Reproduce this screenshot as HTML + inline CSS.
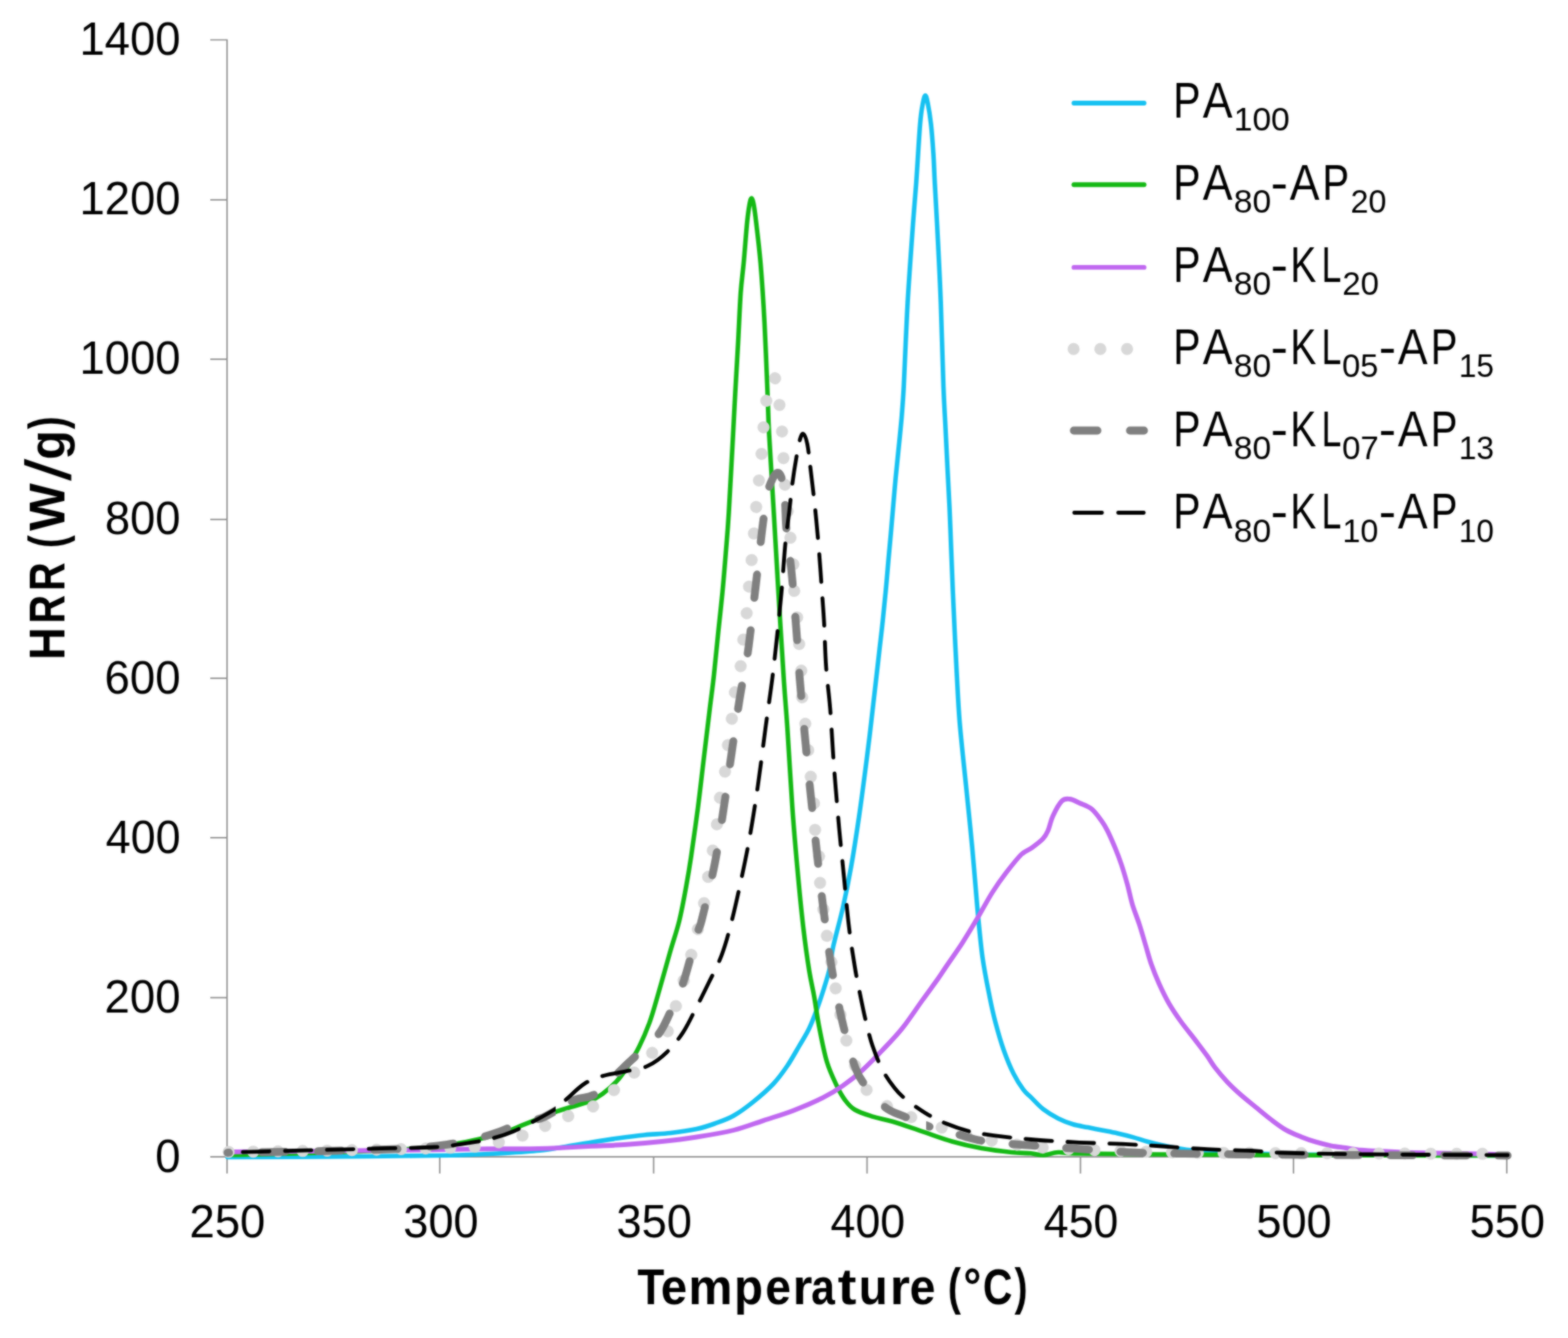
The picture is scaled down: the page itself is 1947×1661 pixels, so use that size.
<!DOCTYPE html>
<html lang="en">
<head>
<meta charset="utf-8">
<title>HRR vs Temperature</title>
<style>
html,body{margin:0;padding:0;background:#fff;}
body{width:1947px;height:1661px;overflow:hidden;font-family:"Liberation Sans",sans-serif;}
svg{display:block;}
</style>
</head>
<body>
<svg width="1947" height="1661" viewBox="0 0 1947 1661">
<defs><filter id="soft" x="0" y="0" width="1947" height="1661" filterUnits="userSpaceOnUse" color-interpolation-filters="sRGB"><feGaussianBlur in="SourceGraphic" stdDeviation="0.8" result="b"/><feComposite in="SourceGraphic" in2="b" operator="arithmetic" k1="0" k2="0.30" k3="0.70" k4="0"/></filter></defs>
<g filter="url(#soft)">
<rect width="1947" height="1661" fill="#fff"/>
<defs>
<clipPath id="cdD"><path d="M0,0H690V1661H0Z"/></clipPath><clipPath id="cdA"><path d="M690,0H972V486H960V1661H690Z"/></clipPath><clipPath id="cdB"><path d="M972,0H1150V1661H960V486H972Z"/></clipPath><clipPath id="cdC"><path d="M1150,0H1947V1661H1150Z"/></clipPath>
<clipPath id="cgD"><path d="M0,0H690V1661H0Z"/></clipPath><clipPath id="cgA"><path d="M690,0H980V612H962V1661H690Z"/></clipPath><clipPath id="cgB"><path d="M980,0H1150V1661H962V612H980Z"/></clipPath><clipPath id="cgC"><path d="M1150,0H1947V1661H1150Z"/></clipPath>
<clipPath id="cbD"><path d="M0,0H690V1661H0Z"/></clipPath><clipPath id="cbA"><path d="M690,0H1010V568H998V1661H690Z"/></clipPath><clipPath id="cbB"><path d="M1010,0H1150V1661H998V568H1010Z"/></clipPath><clipPath id="cbC"><path d="M1150,0H1947V1661H1150Z"/></clipPath>
</defs>
<g stroke="#8a8a8a" stroke-width="1.7" fill="none">
<path d="M261.1,49.5H281.9V1456.8"/>
<line x1="261.1" y1="1436.05" x2="1871.0" y2="1436.05"/>
<line x1="261.1" y1="1238.5" x2="281.9" y2="1238.5"/>
<line x1="261.1" y1="1039.9" x2="281.9" y2="1039.9"/>
<line x1="261.1" y1="842.0" x2="281.9" y2="842.0"/>
<line x1="261.1" y1="644.8" x2="281.9" y2="644.8"/>
<line x1="261.1" y1="445.9" x2="281.9" y2="445.9"/>
<line x1="261.1" y1="248.15" x2="281.9" y2="248.15"/>
<line x1="546.1" y1="1436.05" x2="546.1" y2="1456.8"/>
<line x1="811.6" y1="1436.05" x2="811.6" y2="1456.8"/>
<line x1="1076.6" y1="1436.05" x2="1076.6" y2="1456.8"/>
<line x1="1341.6" y1="1436.05" x2="1341.6" y2="1456.8"/>
<line x1="1606.2" y1="1436.05" x2="1606.2" y2="1456.8"/>
<line x1="1871.0" y1="1436.05" x2="1871.0" y2="1456.8"/>
</g>
<g>
<path d="M282.5,1436.5C302.1,1436.4 357.1,1436.3 400.0,1436.0C442.9,1435.7 509.5,1434.9 540.0,1434.5C570.5,1434.1 568.5,1434.0 583.0,1433.5C597.5,1433.0 612.5,1432.4 627.0,1431.5C641.5,1430.6 657.4,1429.6 670.0,1428.3C682.6,1427.0 691.7,1425.2 702.5,1423.5C713.3,1421.8 724.1,1419.8 735.0,1418.0C745.9,1416.2 756.8,1414.5 767.6,1413.0C778.4,1411.5 789.2,1410.1 800.0,1409.0C810.8,1407.9 821.8,1407.8 832.6,1406.5C843.4,1405.2 855.9,1403.4 865.0,1401.5C874.1,1399.6 879.3,1397.8 887.0,1395.0C894.7,1392.2 902.9,1389.6 911.0,1385.0C919.1,1380.4 927.4,1374.2 935.6,1367.6C943.8,1361.0 953.3,1352.9 960.3,1345.5C967.3,1338.1 972.2,1331.1 977.5,1323.3C982.8,1315.5 987.8,1306.3 992.3,1298.6C996.8,1290.9 1000.9,1284.7 1004.6,1277.0C1008.3,1269.3 1011.4,1260.8 1014.5,1252.5C1017.6,1244.2 1020.4,1235.6 1023.1,1227.0C1025.8,1218.4 1028.6,1209.6 1030.5,1201.0C1032.4,1192.4 1031.8,1188.0 1034.5,1175.5C1037.2,1163.0 1043.1,1142.5 1046.8,1126.0C1050.5,1109.5 1053.4,1095.3 1056.7,1076.8C1060.0,1058.3 1063.2,1037.6 1066.5,1015.0C1069.8,992.4 1073.9,960.6 1076.4,941.0C1078.9,921.4 1079.9,912.9 1081.7,897.2C1083.5,881.5 1085.8,861.4 1087.5,846.6C1089.2,831.9 1090.4,821.3 1091.8,808.7C1093.2,796.1 1094.8,783.4 1096.1,770.8C1097.4,758.1 1098.7,745.4 1099.9,732.8C1101.1,720.1 1102.2,706.7 1103.2,694.9C1104.2,683.1 1105.3,672.5 1106.2,662.0C1107.1,651.5 1107.8,643.1 1108.8,631.7C1109.8,620.3 1110.9,606.4 1112.1,593.8C1113.3,581.2 1114.7,568.5 1115.9,555.9C1117.2,543.2 1118.5,530.5 1119.6,517.9C1120.6,505.2 1121.4,495.4 1122.2,480.0C1123.0,464.6 1123.8,442.8 1124.6,425.5C1125.4,408.2 1126.1,392.4 1127.0,376.0C1127.9,359.6 1129.1,343.2 1130.2,326.8C1131.3,310.4 1132.5,293.9 1133.7,277.4C1134.9,260.9 1136.1,248.6 1137.6,228.0C1139.1,207.4 1141.1,170.7 1142.5,154.0C1143.9,137.3 1144.9,133.9 1146.0,128.0C1147.1,122.1 1148.0,118.5 1149.0,118.5C1150.0,118.5 1150.8,122.1 1152.0,128.0C1153.2,133.9 1154.8,143.5 1156.0,154.0C1157.2,164.5 1158.2,178.7 1159.0,191.0C1159.8,203.3 1159.8,209.5 1160.8,228.0C1161.8,246.5 1163.6,277.3 1164.8,302.0C1166.0,326.7 1167.1,346.3 1168.2,376.0C1169.3,405.7 1170.5,454.2 1171.5,480.0C1172.5,505.8 1173.2,513.8 1174.0,530.6C1174.8,547.5 1175.7,564.2 1176.5,581.1C1177.3,598.0 1178.3,614.8 1179.1,631.7C1179.9,648.6 1180.4,665.4 1181.1,682.3C1181.8,699.1 1182.4,715.9 1183.1,732.8C1183.8,749.6 1184.6,766.5 1185.4,783.4C1186.2,800.3 1186.9,815.0 1187.9,834.0C1189.0,853.0 1189.7,873.2 1191.7,897.2C1193.7,921.2 1197.2,952.2 1199.8,978.0C1202.4,1003.8 1204.9,1027.3 1207.2,1052.0C1209.5,1076.7 1211.4,1103.4 1213.5,1126.0C1215.6,1148.6 1217.4,1169.3 1219.9,1187.8C1222.5,1206.3 1226.1,1223.7 1228.8,1237.2C1231.5,1250.7 1233.1,1258.0 1236.0,1269.0C1238.9,1280.0 1242.5,1292.8 1246.3,1303.5C1250.1,1314.2 1254.5,1324.9 1258.6,1333.1C1262.7,1341.3 1267.3,1348.1 1270.9,1352.9C1274.5,1357.7 1275.9,1358.0 1280.0,1362.0C1284.1,1366.0 1289.8,1372.6 1295.5,1377.0C1301.2,1381.4 1307.8,1385.3 1314.0,1388.4C1320.2,1391.5 1326.3,1393.9 1332.5,1395.8C1338.7,1397.7 1344.8,1398.3 1351.0,1399.6C1357.2,1400.8 1363.2,1402.1 1369.4,1403.3C1375.6,1404.5 1381.7,1405.6 1387.9,1407.0C1394.1,1408.4 1400.2,1409.9 1406.4,1411.6C1412.6,1413.3 1418.7,1415.5 1424.9,1417.2C1431.1,1418.9 1437.2,1420.4 1443.4,1421.8C1449.6,1423.2 1455.7,1424.4 1461.9,1425.4C1468.1,1426.4 1471.2,1427.1 1480.4,1428.0C1489.6,1428.9 1497.1,1430.2 1517.0,1431.0C1536.9,1431.8 1569.5,1432.5 1600.0,1433.0C1630.5,1433.5 1654.7,1433.8 1700.0,1434.0C1745.3,1434.2 1843.3,1434.4 1872.0,1434.5" fill="none" stroke="#16c1f1" stroke-width="5.6" stroke-linecap="round" stroke-linejoin="round"/>
<path d="M282.5,1434.0C302.1,1433.5 367.1,1432.0 400.0,1431.0C432.9,1430.0 456.7,1429.2 480.0,1428.0C503.3,1426.8 526.4,1425.2 540.0,1424.0C553.6,1422.8 552.7,1422.4 561.7,1420.8C570.7,1419.2 583.4,1416.8 594.2,1414.3C605.0,1411.8 617.7,1408.5 626.7,1405.6C635.7,1402.7 641.2,1399.8 648.4,1396.9C655.6,1394.0 662.8,1391.2 670.0,1388.3C677.2,1385.4 685.2,1381.9 691.7,1379.6C698.2,1377.2 702.6,1376.2 709.1,1374.2C715.6,1372.2 724.2,1370.4 730.7,1367.7C737.2,1365.0 742.3,1362.1 748.1,1357.9C753.9,1353.7 760.4,1348.1 765.4,1342.7C770.4,1337.3 773.7,1332.6 778.4,1325.4C783.1,1318.2 788.9,1308.8 793.6,1299.4C798.3,1290.0 802.7,1279.8 806.6,1269.1C810.5,1258.4 812.8,1249.5 817.0,1235.0C821.2,1220.5 827.6,1197.3 832.0,1182.0C836.4,1166.7 840.0,1157.0 843.4,1143.3C846.8,1129.6 849.7,1113.2 852.1,1100.0C854.5,1086.8 855.6,1080.6 858.0,1064.4C860.4,1048.2 863.9,1023.4 866.6,1002.8C869.3,982.2 871.5,961.6 874.0,941.0C876.5,920.4 879.3,896.6 881.4,879.4C883.5,862.2 884.8,853.6 886.5,838.0C888.2,822.4 890.0,802.5 891.8,785.5C893.5,768.5 895.4,752.5 897.0,736.0C898.6,719.5 899.9,703.2 901.2,686.8C902.5,670.4 903.4,662.1 904.9,637.4C906.4,612.7 908.9,563.8 910.3,538.7C911.6,513.6 912.0,505.9 913.0,487.0C914.0,468.1 915.4,446.0 916.5,425.5C917.6,405.0 918.6,380.2 919.7,363.8C920.9,347.4 922.0,341.6 923.4,326.8C924.8,312.0 926.5,287.5 927.8,275.0C929.1,262.5 930.1,256.8 931.0,252.0C931.9,247.2 932.5,246.0 933.3,246.0C934.0,246.0 934.7,248.0 935.5,252.0C936.3,256.0 936.7,257.5 938.2,270.0C939.7,282.5 942.5,305.0 944.4,326.8C946.2,348.6 947.9,374.1 949.3,400.8C950.7,427.5 952.0,464.0 953.0,487.0C954.0,510.0 953.7,513.6 955.0,538.7C956.3,563.8 959.0,604.5 960.9,637.4C962.8,670.3 964.5,701.1 966.6,736.0C968.7,770.9 971.6,819.0 973.5,847.0C975.4,875.0 976.0,878.0 977.7,904.0C979.4,930.0 981.9,974.0 983.9,1002.8C985.9,1031.6 987.8,1052.1 990.0,1076.8C992.2,1101.5 994.9,1129.4 997.4,1150.8C999.9,1172.2 1002.5,1190.6 1004.8,1205.0C1007.1,1219.4 1009.0,1225.7 1011.0,1237.2C1013.0,1248.7 1014.4,1260.5 1017.0,1274.0C1019.6,1287.5 1023.1,1306.0 1026.8,1318.3C1030.5,1330.6 1035.4,1340.2 1039.1,1348.0C1042.8,1355.8 1045.3,1360.3 1049.0,1365.2C1052.7,1370.1 1055.5,1374.0 1061.3,1377.5C1067.0,1381.0 1075.7,1383.6 1083.5,1386.1C1091.3,1388.6 1097.9,1389.2 1108.2,1392.3C1118.5,1395.4 1132.9,1400.5 1145.2,1404.6C1157.5,1408.7 1169.8,1413.5 1182.1,1417.0C1194.4,1420.5 1206.8,1423.3 1219.1,1425.6C1231.4,1427.8 1245.9,1429.5 1256.1,1430.5C1266.2,1431.5 1273.3,1431.2 1280.0,1431.8C1286.7,1432.4 1290.3,1434.2 1296.0,1434.0C1301.7,1433.8 1306.7,1430.8 1314.0,1430.5C1321.3,1430.2 1320.0,1431.6 1340.0,1432.0C1360.0,1432.4 1390.7,1432.7 1434.0,1433.0C1477.3,1433.3 1527.0,1433.8 1600.0,1434.0C1673.0,1434.2 1826.7,1434.4 1872.0,1434.5" fill="none" stroke="#14b914" stroke-width="5.6" stroke-linecap="round" stroke-linejoin="round"/>
<path d="M282.5,1430.0C302.1,1429.8 357.1,1429.5 400.0,1429.0C442.9,1428.5 505.8,1427.8 540.0,1427.3C574.2,1426.8 586.9,1426.4 605.0,1426.2C623.1,1426.0 633.9,1426.4 648.4,1426.2C662.9,1426.0 677.2,1425.6 691.7,1425.1C706.2,1424.5 720.7,1423.6 735.1,1422.9C749.5,1422.2 764.0,1421.8 778.4,1420.8C792.8,1419.8 807.3,1418.5 821.8,1417.0C836.2,1415.5 850.2,1413.8 865.1,1411.5C880.0,1409.2 897.2,1406.4 911.0,1403.0C924.8,1399.6 935.6,1395.1 947.9,1391.1C960.2,1387.0 972.6,1383.4 984.9,1378.7C997.2,1374.0 1011.6,1367.8 1021.9,1362.7C1032.2,1357.6 1038.3,1353.7 1046.5,1347.9C1054.7,1342.2 1063.0,1335.6 1071.2,1328.2C1079.4,1320.8 1087.7,1312.1 1095.9,1303.5C1104.1,1294.9 1112.3,1286.7 1120.5,1276.4C1128.7,1266.1 1137.8,1252.2 1145.2,1241.9C1152.6,1231.6 1160.0,1221.8 1164.9,1214.8C1169.8,1207.8 1169.8,1207.4 1174.8,1200.0C1179.8,1192.6 1188.4,1180.6 1194.9,1170.6C1201.4,1160.6 1207.4,1150.4 1213.6,1140.0C1219.8,1129.6 1226.1,1117.5 1232.1,1108.0C1238.1,1098.5 1243.4,1091.1 1249.4,1083.3C1255.4,1075.5 1262.6,1066.2 1267.9,1061.0C1273.2,1055.8 1276.9,1055.7 1281.4,1052.4C1285.9,1049.1 1291.7,1044.8 1295.0,1041.3C1298.3,1037.8 1299.1,1036.1 1301.2,1031.4C1303.3,1026.7 1304.5,1019.2 1307.4,1013.0C1310.3,1006.8 1315.0,997.9 1318.5,994.4C1322.0,990.9 1324.6,991.6 1328.3,992.0C1332.0,992.4 1336.2,995.0 1340.7,997.0C1345.2,999.0 1351.0,1000.6 1355.5,1004.3C1360.0,1008.0 1364.5,1014.5 1367.8,1019.0C1371.1,1023.5 1372.3,1025.6 1375.2,1031.4C1378.1,1037.2 1382.2,1046.7 1385.1,1053.7C1388.0,1060.7 1390.0,1066.0 1392.5,1073.4C1395.0,1080.8 1397.6,1089.8 1399.9,1098.0C1402.2,1106.2 1403.6,1114.6 1406.1,1122.8C1408.6,1131.0 1412.0,1139.2 1414.7,1147.4C1417.4,1155.6 1419.6,1163.8 1422.1,1172.0C1424.6,1180.2 1426.6,1188.5 1429.5,1196.8C1432.4,1205.0 1435.7,1213.3 1439.4,1221.5C1443.1,1229.7 1447.2,1238.2 1451.7,1246.0C1456.2,1253.8 1461.2,1261.0 1466.5,1268.4C1471.8,1275.8 1478.5,1283.6 1483.8,1290.6C1489.1,1297.6 1494.5,1304.6 1498.6,1310.3C1502.7,1316.0 1504.4,1319.7 1508.5,1325.0C1512.6,1330.3 1518.0,1336.7 1523.3,1342.4C1528.6,1348.1 1534.5,1353.6 1540.6,1359.0C1546.7,1364.4 1553.7,1369.8 1560.0,1375.0C1566.3,1380.2 1572.3,1385.3 1578.5,1390.0C1584.7,1394.7 1590.8,1399.4 1597.0,1402.9C1603.2,1406.4 1609.3,1408.7 1615.5,1411.2C1621.7,1413.7 1627.8,1415.9 1634.0,1417.7C1640.2,1419.5 1646.3,1421.1 1652.5,1422.3C1658.7,1423.5 1664.8,1424.1 1671.0,1425.0C1677.2,1425.9 1683.2,1427.2 1689.4,1427.8C1695.6,1428.4 1698.7,1428.3 1708.0,1428.8C1717.3,1429.3 1732.7,1430.1 1745.0,1430.6C1757.3,1431.0 1766.6,1431.2 1782.0,1431.5C1797.4,1431.8 1822.3,1432.2 1837.4,1432.5C1852.5,1432.8 1866.7,1433.2 1872.5,1433.4" fill="none" stroke="#c068f0" stroke-width="5.8999999999999995" stroke-linecap="round" stroke-linejoin="round"/>
<path d="M282.5,1430.0C302.1,1429.8 363.8,1429.1 400.0,1428.5C436.2,1427.9 474.5,1427.1 500.0,1426.5C525.5,1425.9 538.8,1425.4 553.0,1425.0C567.2,1424.6 574.9,1425.1 585.5,1424.0C596.1,1422.9 606.4,1420.9 616.9,1418.6C627.4,1416.2 638.1,1413.5 648.4,1409.9C658.7,1406.3 669.0,1401.1 678.7,1396.9C688.5,1392.8 697.1,1389.0 706.9,1385.0C716.6,1381.0 727.8,1378.5 737.2,1373.1C746.6,1367.7 754.7,1359.5 763.2,1352.5C771.7,1345.5 780.4,1338.4 788.2,1330.8C796.0,1323.2 803.1,1315.1 809.8,1307.0C816.5,1298.9 823.4,1291.6 828.3,1282.0C833.2,1272.4 834.0,1265.8 839.1,1249.5C844.2,1233.2 854.0,1200.5 858.6,1184.5C863.2,1168.5 864.0,1163.6 866.6,1153.3C869.2,1143.0 871.9,1132.9 874.0,1122.4C876.1,1111.9 877.1,1101.5 879.0,1090.4C880.9,1079.3 883.3,1066.7 885.1,1055.8C886.9,1044.9 888.5,1035.7 890.0,1025.0C891.5,1014.3 892.1,1002.5 893.8,991.6C895.5,980.7 898.4,970.5 900.0,959.6C901.6,948.7 902.3,937.3 903.7,926.2C905.1,915.1 907.2,903.9 908.6,893.0C910.0,882.1 910.5,871.6 912.3,860.8C914.1,850.0 917.7,839.0 919.5,828.0C921.3,817.0 921.6,805.7 922.9,794.6C924.2,783.5 925.9,772.6 927.1,761.6C928.3,750.6 929.0,739.7 930.0,728.7C931.0,717.7 932.3,706.5 933.3,695.4C934.3,684.3 935.2,673.0 936.2,662.0C937.2,651.0 938.0,640.3 939.0,629.3C940.0,618.3 941.3,607.2 942.4,596.2C943.5,585.2 944.6,574.4 945.6,563.4C946.6,552.4 947.1,540.9 948.1,530.0C949.1,519.1 950.1,506.7 951.5,498.0C952.9,489.3 955.0,482.9 956.5,478.0C958.0,473.1 959.2,469.9 960.3,468.8C961.4,467.7 962.3,469.1 963.2,471.5C964.1,473.9 964.8,477.9 965.6,483.0C966.4,488.1 966.9,493.5 967.8,502.2C968.7,510.9 970.2,524.0 971.0,535.0C971.8,546.0 972.2,557.2 972.8,568.3C973.4,579.4 973.8,590.6 974.7,601.6C975.6,612.6 976.9,623.1 978.0,634.0C979.1,644.9 980.2,655.9 981.4,667.0C982.6,678.1 984.3,689.1 985.1,700.4C985.9,711.7 985.5,723.7 986.3,735.0C987.1,746.3 989.0,757.1 990.0,768.2C991.0,779.3 991.7,790.8 992.5,801.5C993.3,812.2 994.4,821.5 995.0,832.4C995.6,843.3 995.4,856.1 996.2,867.0C997.0,877.9 998.7,887.2 999.9,897.9C1001.1,908.6 1002.4,919.9 1003.5,931.0C1004.6,942.1 1005.5,953.0 1006.8,964.5C1008.0,976.0 1010.1,989.2 1011.0,1000.3C1011.9,1011.4 1011.2,1020.3 1012.2,1031.0C1013.2,1041.7 1016.2,1053.4 1017.2,1064.5C1018.2,1075.6 1017.5,1086.9 1018.4,1097.8C1019.3,1108.7 1021.1,1119.1 1022.5,1130.0C1023.9,1140.9 1025.3,1152.4 1027.0,1163.2C1028.7,1174.0 1030.7,1184.1 1032.5,1195.0C1034.3,1205.9 1036.0,1217.2 1037.9,1228.4C1039.8,1239.6 1041.7,1251.1 1044.0,1262.0C1046.3,1272.9 1048.2,1282.7 1051.5,1293.7C1054.8,1304.7 1058.9,1316.7 1064.0,1328.0C1069.1,1339.3 1074.6,1353.3 1082.3,1361.5C1090.0,1369.7 1100.5,1372.3 1110.0,1377.0C1119.5,1381.7 1129.0,1386.0 1139.0,1389.8C1149.0,1393.6 1159.7,1396.7 1170.0,1400.0C1180.3,1403.3 1187.3,1406.4 1200.6,1409.6C1213.9,1412.8 1233.4,1416.4 1250.0,1419.0C1266.6,1421.6 1275.0,1423.3 1300.0,1425.0C1325.0,1426.7 1366.7,1428.0 1400.0,1429.0C1433.3,1430.0 1421.3,1430.4 1500.0,1431.0C1578.7,1431.6 1810.0,1432.2 1872.0,1432.5" fill="none" stroke="#d8d8d8" stroke-width="15.0" stroke-linecap="round" stroke-linejoin="round" stroke-dasharray="0.01 33.09" stroke-dashoffset="0.53" clip-path="url(#cdA)"/>
<path d="M282.5,1430.0C302.1,1429.8 363.8,1429.1 400.0,1428.5C436.2,1427.9 474.5,1427.1 500.0,1426.5C525.5,1425.9 538.8,1425.4 553.0,1425.0C567.2,1424.6 574.9,1425.1 585.5,1424.0C596.1,1422.9 606.4,1420.9 616.9,1418.6C627.4,1416.2 638.1,1413.5 648.4,1409.9C658.7,1406.3 669.0,1401.1 678.7,1396.9C688.5,1392.8 697.1,1389.0 706.9,1385.0C716.6,1381.0 727.8,1378.5 737.2,1373.1C746.6,1367.7 754.7,1359.5 763.2,1352.5C771.7,1345.5 780.4,1338.4 788.2,1330.8C796.0,1323.2 803.1,1315.1 809.8,1307.0C816.5,1298.9 823.4,1291.6 828.3,1282.0C833.2,1272.4 834.0,1265.8 839.1,1249.5C844.2,1233.2 854.0,1200.5 858.6,1184.5C863.2,1168.5 864.0,1163.6 866.6,1153.3C869.2,1143.0 871.9,1132.9 874.0,1122.4C876.1,1111.9 877.1,1101.5 879.0,1090.4C880.9,1079.3 883.3,1066.7 885.1,1055.8C886.9,1044.9 888.5,1035.7 890.0,1025.0C891.5,1014.3 892.1,1002.5 893.8,991.6C895.5,980.7 898.4,970.5 900.0,959.6C901.6,948.7 902.3,937.3 903.7,926.2C905.1,915.1 907.2,903.9 908.6,893.0C910.0,882.1 910.5,871.6 912.3,860.8C914.1,850.0 917.7,839.0 919.5,828.0C921.3,817.0 921.6,805.7 922.9,794.6C924.2,783.5 925.9,772.6 927.1,761.6C928.3,750.6 929.0,739.7 930.0,728.7C931.0,717.7 932.3,706.5 933.3,695.4C934.3,684.3 935.2,673.0 936.2,662.0C937.2,651.0 938.0,640.3 939.0,629.3C940.0,618.3 941.3,607.2 942.4,596.2C943.5,585.2 944.6,574.4 945.6,563.4C946.6,552.4 947.1,540.9 948.1,530.0C949.1,519.1 950.1,506.7 951.5,498.0C952.9,489.3 955.0,482.9 956.5,478.0C958.0,473.1 959.2,469.9 960.3,468.8C961.4,467.7 962.3,469.1 963.2,471.5C964.1,473.9 964.8,477.9 965.6,483.0C966.4,488.1 966.9,493.5 967.8,502.2C968.7,510.9 970.2,524.0 971.0,535.0C971.8,546.0 972.2,557.2 972.8,568.3C973.4,579.4 973.8,590.6 974.7,601.6C975.6,612.6 976.9,623.1 978.0,634.0C979.1,644.9 980.2,655.9 981.4,667.0C982.6,678.1 984.3,689.1 985.1,700.4C985.9,711.7 985.5,723.7 986.3,735.0C987.1,746.3 989.0,757.1 990.0,768.2C991.0,779.3 991.7,790.8 992.5,801.5C993.3,812.2 994.4,821.5 995.0,832.4C995.6,843.3 995.4,856.1 996.2,867.0C997.0,877.9 998.7,887.2 999.9,897.9C1001.1,908.6 1002.4,919.9 1003.5,931.0C1004.6,942.1 1005.5,953.0 1006.8,964.5C1008.0,976.0 1010.1,989.2 1011.0,1000.3C1011.9,1011.4 1011.2,1020.3 1012.2,1031.0C1013.2,1041.7 1016.2,1053.4 1017.2,1064.5C1018.2,1075.6 1017.5,1086.9 1018.4,1097.8C1019.3,1108.7 1021.1,1119.1 1022.5,1130.0C1023.9,1140.9 1025.3,1152.4 1027.0,1163.2C1028.7,1174.0 1030.7,1184.1 1032.5,1195.0C1034.3,1205.9 1036.0,1217.2 1037.9,1228.4C1039.8,1239.6 1041.7,1251.1 1044.0,1262.0C1046.3,1272.9 1048.2,1282.7 1051.5,1293.7C1054.8,1304.7 1058.9,1316.7 1064.0,1328.0C1069.1,1339.3 1074.6,1353.3 1082.3,1361.5C1090.0,1369.7 1100.5,1372.3 1110.0,1377.0C1119.5,1381.7 1129.0,1386.0 1139.0,1389.8C1149.0,1393.6 1159.7,1396.7 1170.0,1400.0C1180.3,1403.3 1187.3,1406.4 1200.6,1409.6C1213.9,1412.8 1233.4,1416.4 1250.0,1419.0C1266.6,1421.6 1275.0,1423.3 1300.0,1425.0C1325.0,1426.7 1366.7,1428.0 1400.0,1429.0C1433.3,1430.0 1421.3,1430.4 1500.0,1431.0C1578.7,1431.6 1810.0,1432.2 1872.0,1432.5" fill="none" stroke="#d8d8d8" stroke-width="15.0" stroke-linecap="round" stroke-linejoin="round" stroke-dasharray="0.01 33.09" stroke-dashoffset="0.20" clip-path="url(#cdB)"/>
<path d="M282.5,1430.0C302.1,1429.8 363.8,1429.1 400.0,1428.5C436.2,1427.9 474.5,1427.1 500.0,1426.5C525.5,1425.9 538.8,1425.4 553.0,1425.0C567.2,1424.6 574.9,1425.1 585.5,1424.0C596.1,1422.9 606.4,1420.9 616.9,1418.6C627.4,1416.2 638.1,1413.5 648.4,1409.9C658.7,1406.3 669.0,1401.1 678.7,1396.9C688.5,1392.8 697.1,1389.0 706.9,1385.0C716.6,1381.0 727.8,1378.5 737.2,1373.1C746.6,1367.7 754.7,1359.5 763.2,1352.5C771.7,1345.5 780.4,1338.4 788.2,1330.8C796.0,1323.2 803.1,1315.1 809.8,1307.0C816.5,1298.9 823.4,1291.6 828.3,1282.0C833.2,1272.4 834.0,1265.8 839.1,1249.5C844.2,1233.2 854.0,1200.5 858.6,1184.5C863.2,1168.5 864.0,1163.6 866.6,1153.3C869.2,1143.0 871.9,1132.9 874.0,1122.4C876.1,1111.9 877.1,1101.5 879.0,1090.4C880.9,1079.3 883.3,1066.7 885.1,1055.8C886.9,1044.9 888.5,1035.7 890.0,1025.0C891.5,1014.3 892.1,1002.5 893.8,991.6C895.5,980.7 898.4,970.5 900.0,959.6C901.6,948.7 902.3,937.3 903.7,926.2C905.1,915.1 907.2,903.9 908.6,893.0C910.0,882.1 910.5,871.6 912.3,860.8C914.1,850.0 917.7,839.0 919.5,828.0C921.3,817.0 921.6,805.7 922.9,794.6C924.2,783.5 925.9,772.6 927.1,761.6C928.3,750.6 929.0,739.7 930.0,728.7C931.0,717.7 932.3,706.5 933.3,695.4C934.3,684.3 935.2,673.0 936.2,662.0C937.2,651.0 938.0,640.3 939.0,629.3C940.0,618.3 941.3,607.2 942.4,596.2C943.5,585.2 944.6,574.4 945.6,563.4C946.6,552.4 947.1,540.9 948.1,530.0C949.1,519.1 950.1,506.7 951.5,498.0C952.9,489.3 955.0,482.9 956.5,478.0C958.0,473.1 959.2,469.9 960.3,468.8C961.4,467.7 962.3,469.1 963.2,471.5C964.1,473.9 964.8,477.9 965.6,483.0C966.4,488.1 966.9,493.5 967.8,502.2C968.7,510.9 970.2,524.0 971.0,535.0C971.8,546.0 972.2,557.2 972.8,568.3C973.4,579.4 973.8,590.6 974.7,601.6C975.6,612.6 976.9,623.1 978.0,634.0C979.1,644.9 980.2,655.9 981.4,667.0C982.6,678.1 984.3,689.1 985.1,700.4C985.9,711.7 985.5,723.7 986.3,735.0C987.1,746.3 989.0,757.1 990.0,768.2C991.0,779.3 991.7,790.8 992.5,801.5C993.3,812.2 994.4,821.5 995.0,832.4C995.6,843.3 995.4,856.1 996.2,867.0C997.0,877.9 998.7,887.2 999.9,897.9C1001.1,908.6 1002.4,919.9 1003.5,931.0C1004.6,942.1 1005.5,953.0 1006.8,964.5C1008.0,976.0 1010.1,989.2 1011.0,1000.3C1011.9,1011.4 1011.2,1020.3 1012.2,1031.0C1013.2,1041.7 1016.2,1053.4 1017.2,1064.5C1018.2,1075.6 1017.5,1086.9 1018.4,1097.8C1019.3,1108.7 1021.1,1119.1 1022.5,1130.0C1023.9,1140.9 1025.3,1152.4 1027.0,1163.2C1028.7,1174.0 1030.7,1184.1 1032.5,1195.0C1034.3,1205.9 1036.0,1217.2 1037.9,1228.4C1039.8,1239.6 1041.7,1251.1 1044.0,1262.0C1046.3,1272.9 1048.2,1282.7 1051.5,1293.7C1054.8,1304.7 1058.9,1316.7 1064.0,1328.0C1069.1,1339.3 1074.6,1353.3 1082.3,1361.5C1090.0,1369.7 1100.5,1372.3 1110.0,1377.0C1119.5,1381.7 1129.0,1386.0 1139.0,1389.8C1149.0,1393.6 1159.7,1396.7 1170.0,1400.0C1180.3,1403.3 1187.3,1406.4 1200.6,1409.6C1213.9,1412.8 1233.4,1416.4 1250.0,1419.0C1266.6,1421.6 1275.0,1423.3 1300.0,1425.0C1325.0,1426.7 1366.7,1428.0 1400.0,1429.0C1433.3,1430.0 1421.3,1430.4 1500.0,1431.0C1578.7,1431.6 1810.0,1432.2 1872.0,1432.5" fill="none" stroke="#d8d8d8" stroke-width="15.0" stroke-linecap="round" stroke-linejoin="round" stroke-dasharray="0.01 30.53" stroke-dashoffset="28.94" clip-path="url(#cdD)"/>
<path d="M282.5,1430.0C302.1,1429.8 363.8,1429.1 400.0,1428.5C436.2,1427.9 474.5,1427.1 500.0,1426.5C525.5,1425.9 538.8,1425.4 553.0,1425.0C567.2,1424.6 574.9,1425.1 585.5,1424.0C596.1,1422.9 606.4,1420.9 616.9,1418.6C627.4,1416.2 638.1,1413.5 648.4,1409.9C658.7,1406.3 669.0,1401.1 678.7,1396.9C688.5,1392.8 697.1,1389.0 706.9,1385.0C716.6,1381.0 727.8,1378.5 737.2,1373.1C746.6,1367.7 754.7,1359.5 763.2,1352.5C771.7,1345.5 780.4,1338.4 788.2,1330.8C796.0,1323.2 803.1,1315.1 809.8,1307.0C816.5,1298.9 823.4,1291.6 828.3,1282.0C833.2,1272.4 834.0,1265.8 839.1,1249.5C844.2,1233.2 854.0,1200.5 858.6,1184.5C863.2,1168.5 864.0,1163.6 866.6,1153.3C869.2,1143.0 871.9,1132.9 874.0,1122.4C876.1,1111.9 877.1,1101.5 879.0,1090.4C880.9,1079.3 883.3,1066.7 885.1,1055.8C886.9,1044.9 888.5,1035.7 890.0,1025.0C891.5,1014.3 892.1,1002.5 893.8,991.6C895.5,980.7 898.4,970.5 900.0,959.6C901.6,948.7 902.3,937.3 903.7,926.2C905.1,915.1 907.2,903.9 908.6,893.0C910.0,882.1 910.5,871.6 912.3,860.8C914.1,850.0 917.7,839.0 919.5,828.0C921.3,817.0 921.6,805.7 922.9,794.6C924.2,783.5 925.9,772.6 927.1,761.6C928.3,750.6 929.0,739.7 930.0,728.7C931.0,717.7 932.3,706.5 933.3,695.4C934.3,684.3 935.2,673.0 936.2,662.0C937.2,651.0 938.0,640.3 939.0,629.3C940.0,618.3 941.3,607.2 942.4,596.2C943.5,585.2 944.6,574.4 945.6,563.4C946.6,552.4 947.1,540.9 948.1,530.0C949.1,519.1 950.1,506.7 951.5,498.0C952.9,489.3 955.0,482.9 956.5,478.0C958.0,473.1 959.2,469.9 960.3,468.8C961.4,467.7 962.3,469.1 963.2,471.5C964.1,473.9 964.8,477.9 965.6,483.0C966.4,488.1 966.9,493.5 967.8,502.2C968.7,510.9 970.2,524.0 971.0,535.0C971.8,546.0 972.2,557.2 972.8,568.3C973.4,579.4 973.8,590.6 974.7,601.6C975.6,612.6 976.9,623.1 978.0,634.0C979.1,644.9 980.2,655.9 981.4,667.0C982.6,678.1 984.3,689.1 985.1,700.4C985.9,711.7 985.5,723.7 986.3,735.0C987.1,746.3 989.0,757.1 990.0,768.2C991.0,779.3 991.7,790.8 992.5,801.5C993.3,812.2 994.4,821.5 995.0,832.4C995.6,843.3 995.4,856.1 996.2,867.0C997.0,877.9 998.7,887.2 999.9,897.9C1001.1,908.6 1002.4,919.9 1003.5,931.0C1004.6,942.1 1005.5,953.0 1006.8,964.5C1008.0,976.0 1010.1,989.2 1011.0,1000.3C1011.9,1011.4 1011.2,1020.3 1012.2,1031.0C1013.2,1041.7 1016.2,1053.4 1017.2,1064.5C1018.2,1075.6 1017.5,1086.9 1018.4,1097.8C1019.3,1108.7 1021.1,1119.1 1022.5,1130.0C1023.9,1140.9 1025.3,1152.4 1027.0,1163.2C1028.7,1174.0 1030.7,1184.1 1032.5,1195.0C1034.3,1205.9 1036.0,1217.2 1037.9,1228.4C1039.8,1239.6 1041.7,1251.1 1044.0,1262.0C1046.3,1272.9 1048.2,1282.7 1051.5,1293.7C1054.8,1304.7 1058.9,1316.7 1064.0,1328.0C1069.1,1339.3 1074.6,1353.3 1082.3,1361.5C1090.0,1369.7 1100.5,1372.3 1110.0,1377.0C1119.5,1381.7 1129.0,1386.0 1139.0,1389.8C1149.0,1393.6 1159.7,1396.7 1170.0,1400.0C1180.3,1403.3 1187.3,1406.4 1200.6,1409.6C1213.9,1412.8 1233.4,1416.4 1250.0,1419.0C1266.6,1421.6 1275.0,1423.3 1300.0,1425.0C1325.0,1426.7 1366.7,1428.0 1400.0,1429.0C1433.3,1430.0 1421.3,1430.4 1500.0,1431.0C1578.7,1431.6 1810.0,1432.2 1872.0,1432.5" fill="none" stroke="#d8d8d8" stroke-width="15.0" stroke-linecap="round" stroke-linejoin="round" stroke-dasharray="0.01 32.10" stroke-dashoffset="17.43" clip-path="url(#cdC)"/>
<path d="M282.5,1431.0C302.1,1430.7 363.8,1429.8 400.0,1429.0C436.2,1428.2 474.1,1427.4 500.0,1426.0C525.9,1424.6 539.9,1422.9 555.2,1420.8C570.5,1418.7 581.5,1415.7 592.0,1413.2C602.5,1410.7 607.9,1409.2 618.0,1405.6C628.1,1402.0 643.3,1394.6 652.7,1391.5C662.1,1388.4 664.3,1391.5 674.4,1387.2C684.5,1382.9 702.6,1370.4 713.4,1365.5C724.2,1360.6 728.9,1365.0 739.4,1357.9C749.9,1350.9 767.9,1331.0 776.2,1323.2C784.5,1315.4 782.3,1317.8 789.2,1311.3C796.1,1304.8 810.2,1293.4 817.4,1284.2C824.6,1275.0 827.5,1266.5 832.6,1256.0C837.7,1245.5 843.6,1232.6 847.8,1221.4C851.9,1210.2 854.2,1200.1 857.5,1188.9C860.8,1177.7 864.9,1162.2 867.3,1154.2C869.6,1146.2 868.2,1154.7 871.6,1141.0C875.0,1127.3 883.1,1094.8 887.6,1071.8C892.1,1048.8 895.2,1025.8 898.7,1002.8C902.2,979.8 905.3,956.3 908.6,933.7C911.9,911.1 915.3,886.8 918.5,867.0C921.7,847.2 925.5,829.0 927.8,815.0C930.0,801.0 930.5,794.9 932.0,783.0C933.5,771.1 935.1,755.4 936.5,743.5C937.9,731.6 938.9,723.0 940.2,711.5C941.5,700.0 943.1,685.6 944.4,674.5C945.7,663.4 946.6,655.2 948.0,644.8C949.4,634.4 951.2,620.3 953.0,612.0C954.8,603.7 957.0,599.2 959.0,595.0C961.0,590.8 963.2,587.5 965.0,587.0C966.8,586.5 968.7,588.5 970.0,592.0C971.3,595.5 972.2,602.1 973.0,608.0C973.8,613.9 974.4,619.3 975.0,627.5C975.6,635.7 975.4,645.5 976.5,657.0C977.6,668.5 980.0,684.8 981.4,696.7C982.8,708.7 983.6,717.2 984.6,728.7C985.6,740.2 986.7,754.3 987.6,765.8C988.5,777.3 989.1,785.1 990.0,797.8C990.9,810.5 991.4,821.8 993.0,842.0C994.6,862.2 997.6,894.5 999.9,918.8C1002.2,943.1 1004.4,965.0 1006.8,988.0C1009.2,1011.0 1011.7,1034.0 1014.2,1057.0C1016.8,1080.0 1019.1,1102.5 1022.1,1126.0C1025.1,1149.5 1028.5,1176.3 1032.0,1197.7C1035.5,1219.1 1039.5,1238.5 1042.8,1254.2C1046.1,1269.9 1048.9,1280.5 1052.0,1292.0C1055.1,1303.5 1058.1,1314.8 1061.3,1323.3C1064.5,1331.8 1065.0,1334.6 1071.2,1343.0C1077.4,1351.4 1089.7,1366.6 1098.3,1373.8C1106.9,1381.0 1113.1,1381.8 1123.0,1386.1C1132.9,1390.4 1146.4,1396.0 1157.5,1399.7C1168.6,1403.4 1178.4,1405.4 1189.5,1408.3C1200.6,1411.2 1208.9,1414.7 1224.0,1417.0C1239.1,1419.3 1261.9,1420.5 1280.0,1421.9C1298.1,1423.4 1312.0,1424.3 1332.5,1425.7C1353.0,1427.1 1379.6,1429.3 1402.7,1430.4C1425.8,1431.5 1448.8,1431.8 1471.0,1432.2C1493.2,1432.6 1497.8,1432.7 1536.0,1433.0C1574.2,1433.3 1644.0,1433.8 1700.0,1434.0C1756.0,1434.2 1843.3,1434.4 1872.0,1434.5" fill="none" stroke="#808080" stroke-width="9.8" stroke-linecap="round" stroke-linejoin="round" stroke-dasharray="29.3 40.4" stroke-dashoffset="49.94" clip-path="url(#cgA)"/>
<path d="M282.5,1431.0C302.1,1430.7 363.8,1429.8 400.0,1429.0C436.2,1428.2 474.1,1427.4 500.0,1426.0C525.9,1424.6 539.9,1422.9 555.2,1420.8C570.5,1418.7 581.5,1415.7 592.0,1413.2C602.5,1410.7 607.9,1409.2 618.0,1405.6C628.1,1402.0 643.3,1394.6 652.7,1391.5C662.1,1388.4 664.3,1391.5 674.4,1387.2C684.5,1382.9 702.6,1370.4 713.4,1365.5C724.2,1360.6 728.9,1365.0 739.4,1357.9C749.9,1350.9 767.9,1331.0 776.2,1323.2C784.5,1315.4 782.3,1317.8 789.2,1311.3C796.1,1304.8 810.2,1293.4 817.4,1284.2C824.6,1275.0 827.5,1266.5 832.6,1256.0C837.7,1245.5 843.6,1232.6 847.8,1221.4C851.9,1210.2 854.2,1200.1 857.5,1188.9C860.8,1177.7 864.9,1162.2 867.3,1154.2C869.6,1146.2 868.2,1154.7 871.6,1141.0C875.0,1127.3 883.1,1094.8 887.6,1071.8C892.1,1048.8 895.2,1025.8 898.7,1002.8C902.2,979.8 905.3,956.3 908.6,933.7C911.9,911.1 915.3,886.8 918.5,867.0C921.7,847.2 925.5,829.0 927.8,815.0C930.0,801.0 930.5,794.9 932.0,783.0C933.5,771.1 935.1,755.4 936.5,743.5C937.9,731.6 938.9,723.0 940.2,711.5C941.5,700.0 943.1,685.6 944.4,674.5C945.7,663.4 946.6,655.2 948.0,644.8C949.4,634.4 951.2,620.3 953.0,612.0C954.8,603.7 957.0,599.2 959.0,595.0C961.0,590.8 963.2,587.5 965.0,587.0C966.8,586.5 968.7,588.5 970.0,592.0C971.3,595.5 972.2,602.1 973.0,608.0C973.8,613.9 974.4,619.3 975.0,627.5C975.6,635.7 975.4,645.5 976.5,657.0C977.6,668.5 980.0,684.8 981.4,696.7C982.8,708.7 983.6,717.2 984.6,728.7C985.6,740.2 986.7,754.3 987.6,765.8C988.5,777.3 989.1,785.1 990.0,797.8C990.9,810.5 991.4,821.8 993.0,842.0C994.6,862.2 997.6,894.5 999.9,918.8C1002.2,943.1 1004.4,965.0 1006.8,988.0C1009.2,1011.0 1011.7,1034.0 1014.2,1057.0C1016.8,1080.0 1019.1,1102.5 1022.1,1126.0C1025.1,1149.5 1028.5,1176.3 1032.0,1197.7C1035.5,1219.1 1039.5,1238.5 1042.8,1254.2C1046.1,1269.9 1048.9,1280.5 1052.0,1292.0C1055.1,1303.5 1058.1,1314.8 1061.3,1323.3C1064.5,1331.8 1065.0,1334.6 1071.2,1343.0C1077.4,1351.4 1089.7,1366.6 1098.3,1373.8C1106.9,1381.0 1113.1,1381.8 1123.0,1386.1C1132.9,1390.4 1146.4,1396.0 1157.5,1399.7C1168.6,1403.4 1178.4,1405.4 1189.5,1408.3C1200.6,1411.2 1208.9,1414.7 1224.0,1417.0C1239.1,1419.3 1261.9,1420.5 1280.0,1421.9C1298.1,1423.4 1312.0,1424.3 1332.5,1425.7C1353.0,1427.1 1379.6,1429.3 1402.7,1430.4C1425.8,1431.5 1448.8,1431.8 1471.0,1432.2C1493.2,1432.6 1497.8,1432.7 1536.0,1433.0C1574.2,1433.3 1644.0,1433.8 1700.0,1434.0C1756.0,1434.2 1843.3,1434.4 1872.0,1434.5" fill="none" stroke="#808080" stroke-width="9.8" stroke-linecap="round" stroke-linejoin="round" stroke-dasharray="29.3 40.4" stroke-dashoffset="56.68" clip-path="url(#cgB)"/>
<path d="M282.5,1431.0C302.1,1430.7 363.8,1429.8 400.0,1429.0C436.2,1428.2 474.1,1427.4 500.0,1426.0C525.9,1424.6 539.9,1422.9 555.2,1420.8C570.5,1418.7 581.5,1415.7 592.0,1413.2C602.5,1410.7 607.9,1409.2 618.0,1405.6C628.1,1402.0 643.3,1394.6 652.7,1391.5C662.1,1388.4 664.3,1391.5 674.4,1387.2C684.5,1382.9 702.6,1370.4 713.4,1365.5C724.2,1360.6 728.9,1365.0 739.4,1357.9C749.9,1350.9 767.9,1331.0 776.2,1323.2C784.5,1315.4 782.3,1317.8 789.2,1311.3C796.1,1304.8 810.2,1293.4 817.4,1284.2C824.6,1275.0 827.5,1266.5 832.6,1256.0C837.7,1245.5 843.6,1232.6 847.8,1221.4C851.9,1210.2 854.2,1200.1 857.5,1188.9C860.8,1177.7 864.9,1162.2 867.3,1154.2C869.6,1146.2 868.2,1154.7 871.6,1141.0C875.0,1127.3 883.1,1094.8 887.6,1071.8C892.1,1048.8 895.2,1025.8 898.7,1002.8C902.2,979.8 905.3,956.3 908.6,933.7C911.9,911.1 915.3,886.8 918.5,867.0C921.7,847.2 925.5,829.0 927.8,815.0C930.0,801.0 930.5,794.9 932.0,783.0C933.5,771.1 935.1,755.4 936.5,743.5C937.9,731.6 938.9,723.0 940.2,711.5C941.5,700.0 943.1,685.6 944.4,674.5C945.7,663.4 946.6,655.2 948.0,644.8C949.4,634.4 951.2,620.3 953.0,612.0C954.8,603.7 957.0,599.2 959.0,595.0C961.0,590.8 963.2,587.5 965.0,587.0C966.8,586.5 968.7,588.5 970.0,592.0C971.3,595.5 972.2,602.1 973.0,608.0C973.8,613.9 974.4,619.3 975.0,627.5C975.6,635.7 975.4,645.5 976.5,657.0C977.6,668.5 980.0,684.8 981.4,696.7C982.8,708.7 983.6,717.2 984.6,728.7C985.6,740.2 986.7,754.3 987.6,765.8C988.5,777.3 989.1,785.1 990.0,797.8C990.9,810.5 991.4,821.8 993.0,842.0C994.6,862.2 997.6,894.5 999.9,918.8C1002.2,943.1 1004.4,965.0 1006.8,988.0C1009.2,1011.0 1011.7,1034.0 1014.2,1057.0C1016.8,1080.0 1019.1,1102.5 1022.1,1126.0C1025.1,1149.5 1028.5,1176.3 1032.0,1197.7C1035.5,1219.1 1039.5,1238.5 1042.8,1254.2C1046.1,1269.9 1048.9,1280.5 1052.0,1292.0C1055.1,1303.5 1058.1,1314.8 1061.3,1323.3C1064.5,1331.8 1065.0,1334.6 1071.2,1343.0C1077.4,1351.4 1089.7,1366.6 1098.3,1373.8C1106.9,1381.0 1113.1,1381.8 1123.0,1386.1C1132.9,1390.4 1146.4,1396.0 1157.5,1399.7C1168.6,1403.4 1178.4,1405.4 1189.5,1408.3C1200.6,1411.2 1208.9,1414.7 1224.0,1417.0C1239.1,1419.3 1261.9,1420.5 1280.0,1421.9C1298.1,1423.4 1312.0,1424.3 1332.5,1425.7C1353.0,1427.1 1379.6,1429.3 1402.7,1430.4C1425.8,1431.5 1448.8,1431.8 1471.0,1432.2C1493.2,1432.6 1497.8,1432.7 1536.0,1433.0C1574.2,1433.3 1644.0,1433.8 1700.0,1434.0C1756.0,1434.2 1843.3,1434.4 1872.0,1434.5" fill="none" stroke="#808080" stroke-width="9.8" stroke-linecap="round" stroke-linejoin="round" stroke-dasharray="29.30 40.40" stroke-dashoffset="27.38" clip-path="url(#cgD)"/>
<path d="M282.5,1431.0C302.1,1430.7 363.8,1429.8 400.0,1429.0C436.2,1428.2 474.1,1427.4 500.0,1426.0C525.9,1424.6 539.9,1422.9 555.2,1420.8C570.5,1418.7 581.5,1415.7 592.0,1413.2C602.5,1410.7 607.9,1409.2 618.0,1405.6C628.1,1402.0 643.3,1394.6 652.7,1391.5C662.1,1388.4 664.3,1391.5 674.4,1387.2C684.5,1382.9 702.6,1370.4 713.4,1365.5C724.2,1360.6 728.9,1365.0 739.4,1357.9C749.9,1350.9 767.9,1331.0 776.2,1323.2C784.5,1315.4 782.3,1317.8 789.2,1311.3C796.1,1304.8 810.2,1293.4 817.4,1284.2C824.6,1275.0 827.5,1266.5 832.6,1256.0C837.7,1245.5 843.6,1232.6 847.8,1221.4C851.9,1210.2 854.2,1200.1 857.5,1188.9C860.8,1177.7 864.9,1162.2 867.3,1154.2C869.6,1146.2 868.2,1154.7 871.6,1141.0C875.0,1127.3 883.1,1094.8 887.6,1071.8C892.1,1048.8 895.2,1025.8 898.7,1002.8C902.2,979.8 905.3,956.3 908.6,933.7C911.9,911.1 915.3,886.8 918.5,867.0C921.7,847.2 925.5,829.0 927.8,815.0C930.0,801.0 930.5,794.9 932.0,783.0C933.5,771.1 935.1,755.4 936.5,743.5C937.9,731.6 938.9,723.0 940.2,711.5C941.5,700.0 943.1,685.6 944.4,674.5C945.7,663.4 946.6,655.2 948.0,644.8C949.4,634.4 951.2,620.3 953.0,612.0C954.8,603.7 957.0,599.2 959.0,595.0C961.0,590.8 963.2,587.5 965.0,587.0C966.8,586.5 968.7,588.5 970.0,592.0C971.3,595.5 972.2,602.1 973.0,608.0C973.8,613.9 974.4,619.3 975.0,627.5C975.6,635.7 975.4,645.5 976.5,657.0C977.6,668.5 980.0,684.8 981.4,696.7C982.8,708.7 983.6,717.2 984.6,728.7C985.6,740.2 986.7,754.3 987.6,765.8C988.5,777.3 989.1,785.1 990.0,797.8C990.9,810.5 991.4,821.8 993.0,842.0C994.6,862.2 997.6,894.5 999.9,918.8C1002.2,943.1 1004.4,965.0 1006.8,988.0C1009.2,1011.0 1011.7,1034.0 1014.2,1057.0C1016.8,1080.0 1019.1,1102.5 1022.1,1126.0C1025.1,1149.5 1028.5,1176.3 1032.0,1197.7C1035.5,1219.1 1039.5,1238.5 1042.8,1254.2C1046.1,1269.9 1048.9,1280.5 1052.0,1292.0C1055.1,1303.5 1058.1,1314.8 1061.3,1323.3C1064.5,1331.8 1065.0,1334.6 1071.2,1343.0C1077.4,1351.4 1089.7,1366.6 1098.3,1373.8C1106.9,1381.0 1113.1,1381.8 1123.0,1386.1C1132.9,1390.4 1146.4,1396.0 1157.5,1399.7C1168.6,1403.4 1178.4,1405.4 1189.5,1408.3C1200.6,1411.2 1208.9,1414.7 1224.0,1417.0C1239.1,1419.3 1261.9,1420.5 1280.0,1421.9C1298.1,1423.4 1312.0,1424.3 1332.5,1425.7C1353.0,1427.1 1379.6,1429.3 1402.7,1430.4C1425.8,1431.5 1448.8,1431.8 1471.0,1432.2C1493.2,1432.6 1497.8,1432.7 1536.0,1433.0C1574.2,1433.3 1644.0,1433.8 1700.0,1434.0C1756.0,1434.2 1843.3,1434.4 1872.0,1434.5" fill="none" stroke="#808080" stroke-width="9.8" stroke-linecap="round" stroke-linejoin="round" stroke-dasharray="28.18 38.85" stroke-dashoffset="8.50" clip-path="url(#cgC)"/>
<path d="M282.5,1430.7C302.1,1430.2 368.1,1428.3 400.0,1427.5C431.9,1426.7 450.4,1426.3 473.7,1425.7C497.0,1425.1 521.7,1425.2 540.0,1424.0C558.3,1422.8 571.4,1420.4 583.3,1418.6C595.2,1416.8 602.5,1415.5 611.5,1413.2C620.5,1410.9 628.5,1408.3 637.5,1404.5C646.5,1400.7 656.7,1395.3 665.7,1390.4C674.7,1385.5 685.2,1379.8 691.7,1375.3C698.2,1370.8 698.9,1368.4 704.7,1363.3C710.5,1358.2 718.8,1349.6 726.4,1344.9C734.0,1340.2 741.5,1337.7 750.2,1335.2C758.9,1332.7 769.4,1331.7 778.4,1329.7C787.4,1327.7 796.1,1327.2 804.4,1323.2C812.7,1319.2 821.1,1312.8 828.3,1305.9C835.5,1299.1 841.8,1291.1 847.8,1282.1C853.8,1273.1 858.6,1262.3 864.0,1252.0C869.4,1241.7 874.6,1231.1 880.0,1220.0C885.4,1208.9 891.4,1198.2 896.2,1185.4C901.0,1172.6 904.5,1159.5 908.6,1143.4C912.7,1127.3 917.3,1106.3 921.0,1089.0C924.7,1071.7 927.5,1058.3 930.8,1039.8C934.1,1021.3 937.4,1000.6 940.7,978.0C944.0,955.4 947.5,926.7 950.5,904.0C953.5,881.3 956.8,859.7 959.0,842.0C961.2,824.3 962.1,815.7 964.0,798.0C965.9,780.3 968.4,756.6 970.3,736.0C972.2,715.4 973.6,690.9 975.2,674.5C976.8,658.1 978.2,649.8 979.7,637.4C981.2,625.0 982.4,611.9 983.9,600.4C985.4,588.9 987.2,577.4 988.8,568.3C990.3,559.2 991.8,551.0 993.2,546.0C994.6,541.0 995.9,537.7 997.4,538.5C998.9,539.3 1001.0,544.4 1002.4,551.0C1003.8,557.6 1004.8,568.3 1006.0,578.2C1007.2,588.1 1008.5,599.2 1009.8,610.3C1011.0,621.4 1012.3,632.0 1013.5,644.8C1014.7,657.5 1016.1,672.4 1017.2,686.8C1018.4,701.2 1019.4,716.8 1020.4,731.2C1021.4,745.6 1022.4,757.1 1023.3,773.2C1024.2,789.3 1024.5,810.3 1025.8,828.0C1027.0,845.7 1029.1,858.5 1030.8,879.4C1032.5,900.3 1033.8,928.7 1035.7,953.4C1037.6,978.1 1039.9,1004.8 1041.9,1027.4C1044.0,1050.0 1046.0,1068.4 1048.0,1089.0C1050.0,1109.6 1052.0,1132.3 1054.2,1150.8C1056.4,1169.3 1059.2,1186.5 1061.4,1200.0C1063.6,1213.5 1065.2,1220.9 1067.5,1232.0C1069.8,1243.1 1072.2,1255.5 1074.9,1266.6C1077.6,1277.7 1080.0,1288.3 1083.5,1298.6C1087.0,1308.9 1091.4,1319.6 1095.9,1328.2C1100.4,1336.8 1105.8,1344.2 1110.7,1350.4C1115.6,1356.6 1118.8,1359.9 1125.4,1365.2C1132.0,1370.5 1141.9,1377.5 1150.1,1382.4C1158.3,1387.3 1165.8,1391.1 1174.8,1394.8C1183.8,1398.5 1194.4,1402.1 1204.3,1404.6C1214.2,1407.1 1221.3,1407.9 1233.9,1409.6C1246.5,1411.2 1262.3,1413.0 1280.0,1414.5C1297.7,1416.0 1321.1,1417.3 1340.0,1418.3C1358.9,1419.2 1376.3,1419.4 1393.5,1420.2C1410.7,1421.0 1425.8,1421.9 1443.4,1423.0C1461.0,1424.1 1480.6,1425.8 1499.0,1426.7C1517.4,1427.6 1538.7,1427.8 1554.0,1428.5C1569.3,1429.2 1566.7,1430.2 1591.0,1431.0C1615.3,1431.8 1653.2,1432.5 1700.0,1433.0C1746.8,1433.5 1843.3,1433.8 1872.0,1434.0" fill="none" stroke="#000" stroke-width="4.8" stroke-linecap="round" stroke-linejoin="round" stroke-dasharray="34.4 20.2" stroke-dashoffset="2.73" clip-path="url(#cbA)"/>
<path d="M282.5,1430.7C302.1,1430.2 368.1,1428.3 400.0,1427.5C431.9,1426.7 450.4,1426.3 473.7,1425.7C497.0,1425.1 521.7,1425.2 540.0,1424.0C558.3,1422.8 571.4,1420.4 583.3,1418.6C595.2,1416.8 602.5,1415.5 611.5,1413.2C620.5,1410.9 628.5,1408.3 637.5,1404.5C646.5,1400.7 656.7,1395.3 665.7,1390.4C674.7,1385.5 685.2,1379.8 691.7,1375.3C698.2,1370.8 698.9,1368.4 704.7,1363.3C710.5,1358.2 718.8,1349.6 726.4,1344.9C734.0,1340.2 741.5,1337.7 750.2,1335.2C758.9,1332.7 769.4,1331.7 778.4,1329.7C787.4,1327.7 796.1,1327.2 804.4,1323.2C812.7,1319.2 821.1,1312.8 828.3,1305.9C835.5,1299.1 841.8,1291.1 847.8,1282.1C853.8,1273.1 858.6,1262.3 864.0,1252.0C869.4,1241.7 874.6,1231.1 880.0,1220.0C885.4,1208.9 891.4,1198.2 896.2,1185.4C901.0,1172.6 904.5,1159.5 908.6,1143.4C912.7,1127.3 917.3,1106.3 921.0,1089.0C924.7,1071.7 927.5,1058.3 930.8,1039.8C934.1,1021.3 937.4,1000.6 940.7,978.0C944.0,955.4 947.5,926.7 950.5,904.0C953.5,881.3 956.8,859.7 959.0,842.0C961.2,824.3 962.1,815.7 964.0,798.0C965.9,780.3 968.4,756.6 970.3,736.0C972.2,715.4 973.6,690.9 975.2,674.5C976.8,658.1 978.2,649.8 979.7,637.4C981.2,625.0 982.4,611.9 983.9,600.4C985.4,588.9 987.2,577.4 988.8,568.3C990.3,559.2 991.8,551.0 993.2,546.0C994.6,541.0 995.9,537.7 997.4,538.5C998.9,539.3 1001.0,544.4 1002.4,551.0C1003.8,557.6 1004.8,568.3 1006.0,578.2C1007.2,588.1 1008.5,599.2 1009.8,610.3C1011.0,621.4 1012.3,632.0 1013.5,644.8C1014.7,657.5 1016.1,672.4 1017.2,686.8C1018.4,701.2 1019.4,716.8 1020.4,731.2C1021.4,745.6 1022.4,757.1 1023.3,773.2C1024.2,789.3 1024.5,810.3 1025.8,828.0C1027.0,845.7 1029.1,858.5 1030.8,879.4C1032.5,900.3 1033.8,928.7 1035.7,953.4C1037.6,978.1 1039.9,1004.8 1041.9,1027.4C1044.0,1050.0 1046.0,1068.4 1048.0,1089.0C1050.0,1109.6 1052.0,1132.3 1054.2,1150.8C1056.4,1169.3 1059.2,1186.5 1061.4,1200.0C1063.6,1213.5 1065.2,1220.9 1067.5,1232.0C1069.8,1243.1 1072.2,1255.5 1074.9,1266.6C1077.6,1277.7 1080.0,1288.3 1083.5,1298.6C1087.0,1308.9 1091.4,1319.6 1095.9,1328.2C1100.4,1336.8 1105.8,1344.2 1110.7,1350.4C1115.6,1356.6 1118.8,1359.9 1125.4,1365.2C1132.0,1370.5 1141.9,1377.5 1150.1,1382.4C1158.3,1387.3 1165.8,1391.1 1174.8,1394.8C1183.8,1398.5 1194.4,1402.1 1204.3,1404.6C1214.2,1407.1 1221.3,1407.9 1233.9,1409.6C1246.5,1411.2 1262.3,1413.0 1280.0,1414.5C1297.7,1416.0 1321.1,1417.3 1340.0,1418.3C1358.9,1419.2 1376.3,1419.4 1393.5,1420.2C1410.7,1421.0 1425.8,1421.9 1443.4,1423.0C1461.0,1424.1 1480.6,1425.8 1499.0,1426.7C1517.4,1427.6 1538.7,1427.8 1554.0,1428.5C1569.3,1429.2 1566.7,1430.2 1591.0,1431.0C1615.3,1431.8 1653.2,1432.5 1700.0,1433.0C1746.8,1433.5 1843.3,1433.8 1872.0,1434.0" fill="none" stroke="#000" stroke-width="4.8" stroke-linecap="round" stroke-linejoin="round" stroke-dasharray="34.4 20.2" stroke-dashoffset="5.29" clip-path="url(#cbB)"/>
<path d="M282.5,1430.7C302.1,1430.2 368.1,1428.3 400.0,1427.5C431.9,1426.7 450.4,1426.3 473.7,1425.7C497.0,1425.1 521.7,1425.2 540.0,1424.0C558.3,1422.8 571.4,1420.4 583.3,1418.6C595.2,1416.8 602.5,1415.5 611.5,1413.2C620.5,1410.9 628.5,1408.3 637.5,1404.5C646.5,1400.7 656.7,1395.3 665.7,1390.4C674.7,1385.5 685.2,1379.8 691.7,1375.3C698.2,1370.8 698.9,1368.4 704.7,1363.3C710.5,1358.2 718.8,1349.6 726.4,1344.9C734.0,1340.2 741.5,1337.7 750.2,1335.2C758.9,1332.7 769.4,1331.7 778.4,1329.7C787.4,1327.7 796.1,1327.2 804.4,1323.2C812.7,1319.2 821.1,1312.8 828.3,1305.9C835.5,1299.1 841.8,1291.1 847.8,1282.1C853.8,1273.1 858.6,1262.3 864.0,1252.0C869.4,1241.7 874.6,1231.1 880.0,1220.0C885.4,1208.9 891.4,1198.2 896.2,1185.4C901.0,1172.6 904.5,1159.5 908.6,1143.4C912.7,1127.3 917.3,1106.3 921.0,1089.0C924.7,1071.7 927.5,1058.3 930.8,1039.8C934.1,1021.3 937.4,1000.6 940.7,978.0C944.0,955.4 947.5,926.7 950.5,904.0C953.5,881.3 956.8,859.7 959.0,842.0C961.2,824.3 962.1,815.7 964.0,798.0C965.9,780.3 968.4,756.6 970.3,736.0C972.2,715.4 973.6,690.9 975.2,674.5C976.8,658.1 978.2,649.8 979.7,637.4C981.2,625.0 982.4,611.9 983.9,600.4C985.4,588.9 987.2,577.4 988.8,568.3C990.3,559.2 991.8,551.0 993.2,546.0C994.6,541.0 995.9,537.7 997.4,538.5C998.9,539.3 1001.0,544.4 1002.4,551.0C1003.8,557.6 1004.8,568.3 1006.0,578.2C1007.2,588.1 1008.5,599.2 1009.8,610.3C1011.0,621.4 1012.3,632.0 1013.5,644.8C1014.7,657.5 1016.1,672.4 1017.2,686.8C1018.4,701.2 1019.4,716.8 1020.4,731.2C1021.4,745.6 1022.4,757.1 1023.3,773.2C1024.2,789.3 1024.5,810.3 1025.8,828.0C1027.0,845.7 1029.1,858.5 1030.8,879.4C1032.5,900.3 1033.8,928.7 1035.7,953.4C1037.6,978.1 1039.9,1004.8 1041.9,1027.4C1044.0,1050.0 1046.0,1068.4 1048.0,1089.0C1050.0,1109.6 1052.0,1132.3 1054.2,1150.8C1056.4,1169.3 1059.2,1186.5 1061.4,1200.0C1063.6,1213.5 1065.2,1220.9 1067.5,1232.0C1069.8,1243.1 1072.2,1255.5 1074.9,1266.6C1077.6,1277.7 1080.0,1288.3 1083.5,1298.6C1087.0,1308.9 1091.4,1319.6 1095.9,1328.2C1100.4,1336.8 1105.8,1344.2 1110.7,1350.4C1115.6,1356.6 1118.8,1359.9 1125.4,1365.2C1132.0,1370.5 1141.9,1377.5 1150.1,1382.4C1158.3,1387.3 1165.8,1391.1 1174.8,1394.8C1183.8,1398.5 1194.4,1402.1 1204.3,1404.6C1214.2,1407.1 1221.3,1407.9 1233.9,1409.6C1246.5,1411.2 1262.3,1413.0 1280.0,1414.5C1297.7,1416.0 1321.1,1417.3 1340.0,1418.3C1358.9,1419.2 1376.3,1419.4 1393.5,1420.2C1410.7,1421.0 1425.8,1421.9 1443.4,1423.0C1461.0,1424.1 1480.6,1425.8 1499.0,1426.7C1517.4,1427.6 1538.7,1427.8 1554.0,1428.5C1569.3,1429.2 1566.7,1430.2 1591.0,1431.0C1615.3,1431.8 1653.2,1432.5 1700.0,1433.0C1746.8,1433.5 1843.3,1433.8 1872.0,1434.0" fill="none" stroke="#000" stroke-width="4.8" stroke-linecap="round" stroke-linejoin="round" stroke-dasharray="32.84 19.29" stroke-dashoffset="32.98" clip-path="url(#cbD)"/>
<path d="M282.5,1430.7C302.1,1430.2 368.1,1428.3 400.0,1427.5C431.9,1426.7 450.4,1426.3 473.7,1425.7C497.0,1425.1 521.7,1425.2 540.0,1424.0C558.3,1422.8 571.4,1420.4 583.3,1418.6C595.2,1416.8 602.5,1415.5 611.5,1413.2C620.5,1410.9 628.5,1408.3 637.5,1404.5C646.5,1400.7 656.7,1395.3 665.7,1390.4C674.7,1385.5 685.2,1379.8 691.7,1375.3C698.2,1370.8 698.9,1368.4 704.7,1363.3C710.5,1358.2 718.8,1349.6 726.4,1344.9C734.0,1340.2 741.5,1337.7 750.2,1335.2C758.9,1332.7 769.4,1331.7 778.4,1329.7C787.4,1327.7 796.1,1327.2 804.4,1323.2C812.7,1319.2 821.1,1312.8 828.3,1305.9C835.5,1299.1 841.8,1291.1 847.8,1282.1C853.8,1273.1 858.6,1262.3 864.0,1252.0C869.4,1241.7 874.6,1231.1 880.0,1220.0C885.4,1208.9 891.4,1198.2 896.2,1185.4C901.0,1172.6 904.5,1159.5 908.6,1143.4C912.7,1127.3 917.3,1106.3 921.0,1089.0C924.7,1071.7 927.5,1058.3 930.8,1039.8C934.1,1021.3 937.4,1000.6 940.7,978.0C944.0,955.4 947.5,926.7 950.5,904.0C953.5,881.3 956.8,859.7 959.0,842.0C961.2,824.3 962.1,815.7 964.0,798.0C965.9,780.3 968.4,756.6 970.3,736.0C972.2,715.4 973.6,690.9 975.2,674.5C976.8,658.1 978.2,649.8 979.7,637.4C981.2,625.0 982.4,611.9 983.9,600.4C985.4,588.9 987.2,577.4 988.8,568.3C990.3,559.2 991.8,551.0 993.2,546.0C994.6,541.0 995.9,537.7 997.4,538.5C998.9,539.3 1001.0,544.4 1002.4,551.0C1003.8,557.6 1004.8,568.3 1006.0,578.2C1007.2,588.1 1008.5,599.2 1009.8,610.3C1011.0,621.4 1012.3,632.0 1013.5,644.8C1014.7,657.5 1016.1,672.4 1017.2,686.8C1018.4,701.2 1019.4,716.8 1020.4,731.2C1021.4,745.6 1022.4,757.1 1023.3,773.2C1024.2,789.3 1024.5,810.3 1025.8,828.0C1027.0,845.7 1029.1,858.5 1030.8,879.4C1032.5,900.3 1033.8,928.7 1035.7,953.4C1037.6,978.1 1039.9,1004.8 1041.9,1027.4C1044.0,1050.0 1046.0,1068.4 1048.0,1089.0C1050.0,1109.6 1052.0,1132.3 1054.2,1150.8C1056.4,1169.3 1059.2,1186.5 1061.4,1200.0C1063.6,1213.5 1065.2,1220.9 1067.5,1232.0C1069.8,1243.1 1072.2,1255.5 1074.9,1266.6C1077.6,1277.7 1080.0,1288.3 1083.5,1298.6C1087.0,1308.9 1091.4,1319.6 1095.9,1328.2C1100.4,1336.8 1105.8,1344.2 1110.7,1350.4C1115.6,1356.6 1118.8,1359.9 1125.4,1365.2C1132.0,1370.5 1141.9,1377.5 1150.1,1382.4C1158.3,1387.3 1165.8,1391.1 1174.8,1394.8C1183.8,1398.5 1194.4,1402.1 1204.3,1404.6C1214.2,1407.1 1221.3,1407.9 1233.9,1409.6C1246.5,1411.2 1262.3,1413.0 1280.0,1414.5C1297.7,1416.0 1321.1,1417.3 1340.0,1418.3C1358.9,1419.2 1376.3,1419.4 1393.5,1420.2C1410.7,1421.0 1425.8,1421.9 1443.4,1423.0C1461.0,1424.1 1480.6,1425.8 1499.0,1426.7C1517.4,1427.6 1538.7,1427.8 1554.0,1428.5C1569.3,1429.2 1566.7,1430.2 1591.0,1431.0C1615.3,1431.8 1653.2,1432.5 1700.0,1433.0C1746.8,1433.5 1843.3,1433.8 1872.0,1434.0" fill="none" stroke="#000" stroke-width="4.8" stroke-linecap="round" stroke-linejoin="round" stroke-dasharray="32.79 19.26" stroke-dashoffset="16.97" clip-path="url(#cbC)"/>
</g>
<line x1="1333.5" y1="128.0" x2="1420.6" y2="128.0" stroke="#16c1f1" stroke-width="5.8999999999999995" stroke-linecap="round"/>
<line x1="1333.5" y1="229.3" x2="1420.6" y2="229.3" stroke="#14b914" stroke-width="5.8999999999999995" stroke-linecap="round"/>
<line x1="1333.5" y1="331.9" x2="1420.6" y2="331.9" stroke="#c068f0" stroke-width="5.8999999999999995" stroke-linecap="round"/>
<line x1="1333.1" y1="433.3" x2="1420.6" y2="433.3" stroke="#d8d8d8" stroke-width="15.0" stroke-linecap="round" stroke-dasharray="0.01 33.19"/>
<line x1="1333.4" y1="534.5" x2="1420.5" y2="534.5" stroke="#808080" stroke-width="9.8" stroke-linecap="round" stroke-dasharray="29.3 40.4"/>
<line x1="1333.9" y1="636.5" x2="1420.1999999999998" y2="636.5" stroke="#000" stroke-width="4.8" stroke-linecap="round" stroke-dasharray="34.4 20.2"/>
<g font-family="'Liberation Sans', sans-serif" fill="#000" style="font-kerning:none">
<text><tspan x="192.79" y="1454.9" font-size="57.4" textLength="31.41" lengthAdjust="spacingAndGlyphs">0</tspan></text>
<text><tspan x="129.75" y="1256.8" font-size="57.4" textLength="94.46" lengthAdjust="spacingAndGlyphs">200</tspan></text>
<text><tspan x="131.32" y="1058.7" font-size="57.4" textLength="92.85" lengthAdjust="spacingAndGlyphs">400</tspan></text>
<text><tspan x="129.72" y="860.6" font-size="57.4" textLength="94.49" lengthAdjust="spacingAndGlyphs">600</tspan></text>
<text><tspan x="130.15" y="662.5" font-size="57.4" textLength="94.05" lengthAdjust="spacingAndGlyphs">800</tspan></text>
<text><tspan x="98.70" y="464.4" font-size="57.4" textLength="125.50" lengthAdjust="spacingAndGlyphs">1000</tspan></text>
<text><tspan x="98.70" y="266.3" font-size="57.4" textLength="125.50" lengthAdjust="spacingAndGlyphs">1200</tspan></text>
<text><tspan x="98.70" y="68.2" font-size="57.4" textLength="125.50" lengthAdjust="spacingAndGlyphs">1400</tspan></text>
<text><tspan x="235.26" y="1535.9" font-size="57.4" textLength="94.25" lengthAdjust="spacingAndGlyphs">250</tspan></text>
<text><tspan x="500.78" y="1535.9" font-size="57.4" textLength="93.52" lengthAdjust="spacingAndGlyphs">300</tspan></text>
<text><tspan x="765.60" y="1535.9" font-size="57.4" textLength="93.52" lengthAdjust="spacingAndGlyphs">350</tspan></text>
<text><tspan x="1031.28" y="1535.9" font-size="57.4" textLength="92.64" lengthAdjust="spacingAndGlyphs">400</tspan></text>
<text><tspan x="1296.09" y="1535.9" font-size="57.4" textLength="92.64" lengthAdjust="spacingAndGlyphs">450</tspan></text>
<text><tspan x="1559.94" y="1535.9" font-size="57.4" textLength="93.64" lengthAdjust="spacingAndGlyphs">500</tspan></text>
<text><tspan x="1824.75" y="1535.9" font-size="57.4" textLength="93.64" lengthAdjust="spacingAndGlyphs">550</tspan></text>
<text font-weight="bold"><tspan x="791.39" y="1619.0" font-size="63.0" textLength="33.40" lengthAdjust="spacingAndGlyphs">T</tspan><tspan x="820.50" y="1619.0" font-size="63.0" textLength="32.71" lengthAdjust="spacingAndGlyphs">e</tspan><tspan x="854.74" y="1619.0" font-size="63.0" textLength="54.78" lengthAdjust="spacingAndGlyphs">m</tspan><tspan x="911.43" y="1619.0" font-size="63.0" textLength="35.88" lengthAdjust="spacingAndGlyphs">p</tspan><tspan x="950.26" y="1619.0" font-size="63.0" textLength="31.90" lengthAdjust="spacingAndGlyphs">e</tspan><tspan x="984.37" y="1619.0" font-size="63.0" textLength="24.38" lengthAdjust="spacingAndGlyphs">r</tspan><tspan x="1007.25" y="1619.0" font-size="63.0" textLength="29.41" lengthAdjust="spacingAndGlyphs">a</tspan><tspan x="1040.35" y="1619.0" font-size="63.0" textLength="23.20" lengthAdjust="spacingAndGlyphs">t</tspan><tspan x="1066.24" y="1619.0" font-size="63.0" textLength="36.05" lengthAdjust="spacingAndGlyphs">u</tspan><tspan x="1105.09" y="1619.0" font-size="63.0" textLength="24.88" lengthAdjust="spacingAndGlyphs">r</tspan><tspan x="1129.45" y="1619.0" font-size="63.0" textLength="32.02" lengthAdjust="spacingAndGlyphs">e</tspan> <tspan x="1176.88" y="1619.0" font-size="63.0" textLength="16.17" lengthAdjust="spacingAndGlyphs">(</tspan><tspan x="1196.26" y="1619.0" font-size="63.0" textLength="22.23" lengthAdjust="spacingAndGlyphs">°</tspan><tspan x="1220.42" y="1619.0" font-size="63.0" textLength="36.56" lengthAdjust="spacingAndGlyphs">C</tspan><tspan x="1259.75" y="1619.0" font-size="63.0" textLength="16.17" lengthAdjust="spacingAndGlyphs">)</tspan></text>
<text font-weight="bold" transform="translate(80.1,816) rotate(-90)"><tspan x="-3.15" y="0.0" font-size="63.0" textLength="40.54" lengthAdjust="spacingAndGlyphs">H</tspan><tspan x="42.12" y="0.0" font-size="63.0" textLength="35.38" lengthAdjust="spacingAndGlyphs">R</tspan><tspan x="82.62" y="0.0" font-size="63.0" textLength="35.38" lengthAdjust="spacingAndGlyphs">R</tspan> <tspan x="135.74" y="0.0" font-size="63.0" textLength="15.81" lengthAdjust="spacingAndGlyphs">(</tspan><tspan x="157.04" y="0.0" font-size="63.0" textLength="59.12" lengthAdjust="spacingAndGlyphs">W</tspan><tspan x="218.90" y="8.2" font-size="80.3" font-weight="normal" textLength="27.50" lengthAdjust="spacingAndGlyphs">/</tspan><tspan x="245.13" y="0.0" font-size="63.0" textLength="36.80" lengthAdjust="spacingAndGlyphs">g</tspan><tspan x="283.35" y="0.0" font-size="63.0" textLength="15.81" lengthAdjust="spacingAndGlyphs">)</tspan></text>
<text><tspan x="1456.72" y="145.8" font-size="62.6" textLength="33.96" lengthAdjust="spacingAndGlyphs">P</tspan><tspan x="1493.59" y="145.8" font-size="62.6" textLength="36.92" lengthAdjust="spacingAndGlyphs">A</tspan><tspan x="1532.03" y="162.0" font-size="40.6" textLength="69.50" lengthAdjust="spacingAndGlyphs">100</tspan></text>
<text><tspan x="1456.72" y="247.9" font-size="62.6" textLength="33.96" lengthAdjust="spacingAndGlyphs">P</tspan><tspan x="1493.59" y="247.9" font-size="62.6" textLength="36.92" lengthAdjust="spacingAndGlyphs">A</tspan><tspan x="1531.99" y="264.1" font-size="40.6" textLength="46.34" lengthAdjust="spacingAndGlyphs">80</tspan><tspan x="1577.82" y="247.9" font-size="62.6" textLength="21.55" lengthAdjust="spacingAndGlyphs">-</tspan><tspan x="1601.49" y="247.9" font-size="62.6" textLength="36.92" lengthAdjust="spacingAndGlyphs">A</tspan><tspan x="1642.12" y="247.9" font-size="62.6" textLength="33.21" lengthAdjust="spacingAndGlyphs">P</tspan><tspan x="1676.98" y="264.1" font-size="40.6" textLength="44.58" lengthAdjust="spacingAndGlyphs">20</tspan></text>
<text><tspan x="1456.72" y="350.0" font-size="62.6" textLength="33.96" lengthAdjust="spacingAndGlyphs">P</tspan><tspan x="1493.59" y="350.0" font-size="62.6" textLength="36.92" lengthAdjust="spacingAndGlyphs">A</tspan><tspan x="1531.99" y="366.2" font-size="40.6" textLength="46.34" lengthAdjust="spacingAndGlyphs">80</tspan><tspan x="1577.82" y="350.0" font-size="62.6" textLength="21.55" lengthAdjust="spacingAndGlyphs">-</tspan><tspan x="1602.14" y="350.0" font-size="62.6" textLength="32.20" lengthAdjust="spacingAndGlyphs">K</tspan><tspan x="1640.97" y="350.0" font-size="62.6" textLength="24.60" lengthAdjust="spacingAndGlyphs">L</tspan><tspan x="1666.84" y="366.2" font-size="40.6" textLength="45.56" lengthAdjust="spacingAndGlyphs">20</tspan></text>
<text><tspan x="1456.72" y="452.1" font-size="62.6" textLength="33.96" lengthAdjust="spacingAndGlyphs">P</tspan><tspan x="1493.59" y="452.1" font-size="62.6" textLength="36.92" lengthAdjust="spacingAndGlyphs">A</tspan><tspan x="1531.99" y="468.3" font-size="40.6" textLength="46.34" lengthAdjust="spacingAndGlyphs">80</tspan><tspan x="1577.82" y="452.1" font-size="62.6" textLength="21.55" lengthAdjust="spacingAndGlyphs">-</tspan><tspan x="1602.14" y="452.1" font-size="62.6" textLength="32.20" lengthAdjust="spacingAndGlyphs">K</tspan><tspan x="1640.97" y="452.1" font-size="62.6" textLength="24.60" lengthAdjust="spacingAndGlyphs">L</tspan><tspan x="1666.52" y="468.3" font-size="40.6" textLength="45.09" lengthAdjust="spacingAndGlyphs">05</tspan><tspan x="1712.12" y="452.1" font-size="62.6" textLength="21.55" lengthAdjust="spacingAndGlyphs">-</tspan><tspan x="1735.79" y="452.1" font-size="62.6" textLength="36.92" lengthAdjust="spacingAndGlyphs">A</tspan><tspan x="1776.42" y="452.1" font-size="62.6" textLength="33.21" lengthAdjust="spacingAndGlyphs">P</tspan><tspan x="1811.41" y="468.3" font-size="40.6" textLength="43.64" lengthAdjust="spacingAndGlyphs">15</tspan></text>
<text><tspan x="1456.72" y="554.2" font-size="62.6" textLength="33.96" lengthAdjust="spacingAndGlyphs">P</tspan><tspan x="1493.59" y="554.2" font-size="62.6" textLength="36.92" lengthAdjust="spacingAndGlyphs">A</tspan><tspan x="1531.99" y="570.4" font-size="40.6" textLength="46.34" lengthAdjust="spacingAndGlyphs">80</tspan><tspan x="1577.82" y="554.2" font-size="62.6" textLength="21.55" lengthAdjust="spacingAndGlyphs">-</tspan><tspan x="1602.14" y="554.2" font-size="62.6" textLength="32.20" lengthAdjust="spacingAndGlyphs">K</tspan><tspan x="1640.97" y="554.2" font-size="62.6" textLength="24.60" lengthAdjust="spacingAndGlyphs">L</tspan><tspan x="1666.50" y="570.4" font-size="40.6" textLength="45.45" lengthAdjust="spacingAndGlyphs">07</tspan><tspan x="1712.12" y="554.2" font-size="62.6" textLength="21.55" lengthAdjust="spacingAndGlyphs">-</tspan><tspan x="1735.79" y="554.2" font-size="62.6" textLength="36.92" lengthAdjust="spacingAndGlyphs">A</tspan><tspan x="1776.42" y="554.2" font-size="62.6" textLength="33.21" lengthAdjust="spacingAndGlyphs">P</tspan><tspan x="1811.41" y="570.4" font-size="40.6" textLength="43.72" lengthAdjust="spacingAndGlyphs">13</tspan></text>
<text><tspan x="1456.72" y="656.3" font-size="62.6" textLength="33.96" lengthAdjust="spacingAndGlyphs">P</tspan><tspan x="1493.59" y="656.3" font-size="62.6" textLength="36.92" lengthAdjust="spacingAndGlyphs">A</tspan><tspan x="1531.99" y="672.5" font-size="40.6" textLength="46.34" lengthAdjust="spacingAndGlyphs">80</tspan><tspan x="1577.82" y="656.3" font-size="62.6" textLength="21.55" lengthAdjust="spacingAndGlyphs">-</tspan><tspan x="1602.14" y="656.3" font-size="62.6" textLength="32.20" lengthAdjust="spacingAndGlyphs">K</tspan><tspan x="1640.97" y="656.3" font-size="62.6" textLength="24.60" lengthAdjust="spacingAndGlyphs">L</tspan><tspan x="1667.06" y="672.5" font-size="40.6" textLength="44.40" lengthAdjust="spacingAndGlyphs">10</tspan><tspan x="1712.12" y="656.3" font-size="62.6" textLength="21.55" lengthAdjust="spacingAndGlyphs">-</tspan><tspan x="1735.79" y="656.3" font-size="62.6" textLength="36.92" lengthAdjust="spacingAndGlyphs">A</tspan><tspan x="1776.42" y="656.3" font-size="62.6" textLength="33.21" lengthAdjust="spacingAndGlyphs">P</tspan><tspan x="1811.42" y="672.5" font-size="40.6" textLength="43.51" lengthAdjust="spacingAndGlyphs">10</tspan></text>
</g>
</g>
</svg>
</body>
</html>
